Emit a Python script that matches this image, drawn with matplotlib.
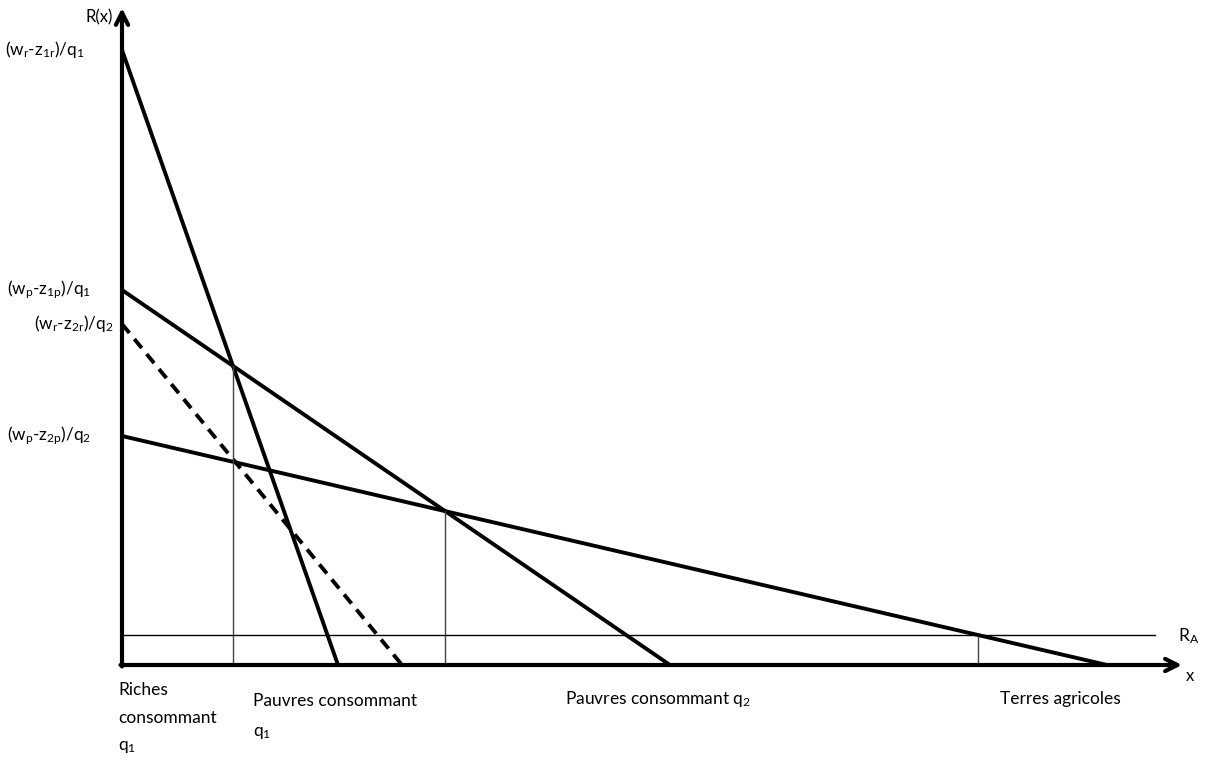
import matplotlib
matplotlib.use("Agg")
import matplotlib.pyplot as plt
import numpy as np

plt.rcParams['font.family'] = ['Lato', 'DejaVu Sans']
plt.rcParams['mathtext.fontset'] = 'custom'
plt.rcParams['mathtext.rm'] = 'Lato'
plt.rcParams['mathtext.it'] = 'Lato'

# Bid-rent lines: (y-intercept, x-intercept), in chart units
rich_q1 = (615, 216)
poor_q1 = (375, 548)
rich_q2 = (341, 280)
poor_q2 = (229, 985)
R_A = 30
x_max = 1060
y_max = 657
ra_end = 1033

y_labels = [r'$\mathregular{(w_r\text{-}z_{1r})/q_1}$',
            r'$\mathregular{(w_p\text{-}z_{1p})/q_1}$',
            r'$\mathregular{(w_r\text{-}z_{2r})/q_2}$',
            r'$\mathregular{(w_p\text{-}z_{2p})/q_2}$']

fig = plt.figure(figsize=(12.06, 7.6), dpi=100)
ax = fig.add_axes([0, 0, 1, 1])
ax.set_xlim(-122, 1084)
ax.set_ylim(-95, 665)
ax.axis('off')

def line(p, **kw):
    b, a = p
    ax.plot([0, a], [b, 0], color='black', solid_capstyle='butt', **kw)

line(rich_q1, lw=2.8)
line(poor_q1, lw=2.8)
line(poor_q2, lw=2.8)
line(rich_q2, lw=2.8, ls=(0, (3, 2)))

def inter(p1, p2):
    b1, a1 = p1
    b2, a2 = p2
    s1, s2 = -b1 / a1, -b2 / a2
    x = (b2 - b1) / (s1 - s2)
    return x, b1 + s1 * x

x1, y1 = inter(rich_q1, poor_q1)
x2, y2 = inter(poor_q1, poor_q2)
x3 = (poor_q2[0] - R_A) / (poor_q2[0] / poor_q2[1])
for xv, yv in [(x1, y1), (x2, y2), (x3, R_A)]:
    ax.plot([xv, xv], [0, yv], color='#444444', lw=1.0)

ax.plot([0, ra_end], [R_A, R_A], color='black', lw=1.0)

# axes
ax.annotate('', xy=(x_max, 0), xytext=(-1.5, 0),
            arrowprops=dict(arrowstyle='->', lw=3, color='black', mutation_scale=22, shrinkA=0, shrinkB=0))
ax.annotate('', xy=(0, y_max), xytext=(0, -1.5),
            arrowprops=dict(arrowstyle='->', lw=3, color='black', mutation_scale=22, shrinkA=0, shrinkB=0))

fs = 12.5
ax.text(-9, 648, 'R(x)', ha='right', va='center', fontsize=12)
ax.text(-117, rich_q1[0], y_labels[0], ha='left', va='center', fontsize=12.3)
ax.text(-115, poor_q1[0], y_labels[1], ha='left', va='center', fontsize=12.3)
ax.text(-9, rich_q2[0], y_labels[2], ha='right', va='center', fontsize=12.3)
ax.text(-115, poor_q2[0], y_labels[3], ha='left', va='center', fontsize=12.3)
ax.text(1056, R_A - 1, r'$\mathregular{R_A}$', ha='left', va='center', fontsize=fs)
ax.text(1064, -11, 'x', ha='left', va='center', fontsize=12)

ax.text(-4, -17, 'Riches\nconsommant\n' + r'$\mathregular{q_1}$', ha='left', va='top',
        fontsize=fs, linespacing=1.9)
ax.text(131, -28, 'Pauvres consommant\n' + r'$\mathregular{q_1}$', ha='left', va='top',
        fontsize=fs, linespacing=2.1)
ax.text(443, -34, r'Pauvres consommant $\mathregular{q_2}$', ha='left', va='center', fontsize=fs)
ax.text(878, -34, 'Terres agricoles', ha='left', va='center', fontsize=fs)

fig.savefig('out.png', dpi=100)
